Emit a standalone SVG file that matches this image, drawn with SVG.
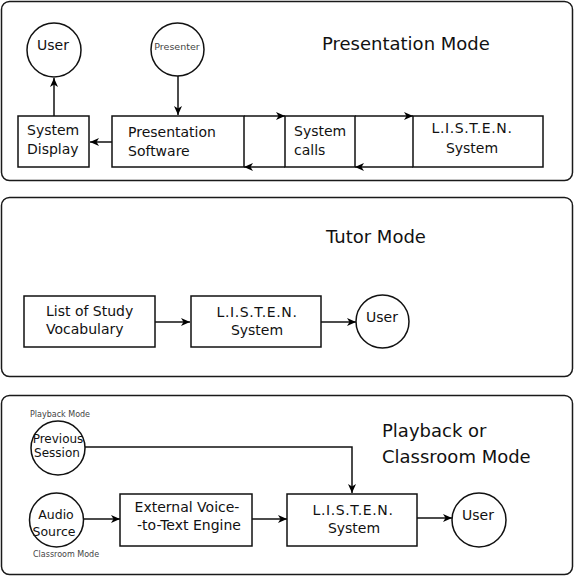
<svg xmlns="http://www.w3.org/2000/svg" width="575" height="576" viewBox="0 0 575 576">
<defs>
<marker id="ah" markerUnits="userSpaceOnUse" markerWidth="10" markerHeight="8" refX="9" refY="4" orient="auto">
<path d="M0,0 L9,4 L0,8 L2.5,4 Z" fill="#000"/>
</marker>
<style>
.panel{fill:#fff;stroke:#1a1a1a;stroke-width:1.5}
.box{fill:#fff;stroke:#111;stroke-width:1.5}
.t{font-family:"DejaVu Sans","Verdana",sans-serif;fill:#111;font-size:14px}
.title{font-family:"DejaVu Sans","Verdana",sans-serif;fill:#111;font-size:18px}
.small{font-family:"DejaVu Sans","Verdana",sans-serif;fill:#444;font-size:8px}
.m{text-anchor:middle}
.ls{letter-spacing:0.6px}
.c{fill:none;stroke:#111;stroke-width:1.5;marker-end:url(#ah)}
</style>
</defs>
<rect width="575" height="576" fill="#fff"/>

<g id="panel-presentation">
<rect class="panel" x="1.5" y="1.5" width="571" height="179" rx="8"/>
<text class="title" x="322" y="50">Presentation Mode</text>
</g>
<g id="panel-tutor">
<rect class="panel" x="1.5" y="197.5" width="571" height="179" rx="8"/>
<text class="title" x="326" y="243">Tutor Mode</text>
</g>
<g id="panel-playback">
<rect class="panel" x="1.5" y="395.5" width="571" height="179" rx="8"/>
<text class="title" x="382" y="437">Playback or</text>
<text class="title" x="382" y="463">Classroom Mode</text>
</g>

<g id="connectors">
<path class="c" d="M178 76 V115"/>
<path class="c" d="M54 116 V78"/>
<path class="c" d="M112 142 H90"/>
<path class="c" d="M244 116 H285"/>
<path class="c" d="M355 116 H413"/>
<path class="c" d="M285 167 H244"/>
<path class="c" d="M413 167 H355"/>
<path class="c" d="M155 322 H190"/>
<path class="c" d="M321 322 H356"/>
<path class="c" d="M85 447 H352 V493"/>
<path class="c" d="M84 519 H120"/>
<path class="c" d="M252 519 H287"/>
<path class="c" d="M417 518 H452"/>
</g>

<g id="user-top">
<circle class="box" cx="54" cy="50" r="27"/>
<text class="t m" x="53" y="50">User</text>
</g>
<g id="presenter">
<circle class="box" cx="177.5" cy="49.5" r="26.5"/>
<text class="t m" x="177" y="50" style="font-size:9.5px;fill:#444">Presenter</text>
</g>
<g id="system-display">
<rect class="box" x="18" y="116" width="71" height="51"/>
<text class="t" x="27" y="135">System</text>
<text class="t" x="27" y="154">Display</text>
</g>
<g id="presentation-software">
<rect class="box" x="112" y="116" width="132" height="51"/>
<text class="t" x="128" y="137">Presentation</text>
<text class="t" x="128" y="156">Software</text>
</g>
<g id="system-calls">
<rect class="box" x="285" y="116" width="70" height="51"/>
<text class="t" x="294" y="136">System</text>
<text class="t" x="294" y="155">calls</text>
</g>
<g id="listen-top">
<rect class="box" x="413" y="116" width="130" height="51"/>
<text class="t m ls" x="472" y="133">L.I.S.T.E.N.</text>
<text class="t m" x="472" y="153">System</text>
</g>

<g id="vocab">
<rect class="box" x="24" y="296" width="131" height="51"/>
<text class="t" x="46" y="316">List of Study</text>
<text class="t" x="46" y="334">Vocabulary</text>
</g>
<g id="listen-tutor">
<rect class="box" x="191" y="296" width="130" height="51"/>
<text class="t m ls" x="257" y="317">L.I.S.T.E.N.</text>
<text class="t m" x="257" y="335">System</text>
</g>
<g id="user-tutor">
<circle class="box" cx="382.5" cy="321.5" r="26.5"/>
<text class="t m" x="382" y="322">User</text>
</g>

<g id="previous-session">
<text class="small" x="30" y="417">Playback Mode</text>
<circle class="box" cx="58" cy="448" r="27"/>
<text class="t m" x="58" y="443" style="font-size:12px">Previous</text>
<text class="t m" x="57" y="457" style="font-size:12px">Session</text>
</g>
<g id="audio-source">
<circle class="box" cx="56.5" cy="520" r="27"/>
<text class="t m" x="56" y="519" style="font-size:12.5px">Audio</text>
<text class="t m" x="54" y="536" style="font-size:12.5px">Source</text>
<text class="small" x="33" y="557">Classroom Mode</text>
</g>
<g id="external-engine">
<rect class="box" x="120" y="494" width="132" height="52"/>
<text class="t m" x="187" y="512">External Voice-</text>
<text class="t m" x="189" y="530">-to-Text Engine</text>
</g>
<g id="listen-playback">
<rect class="box" x="287" y="494" width="130" height="52"/>
<text class="t m ls" x="353" y="515">L.I.S.T.E.N.</text>
<text class="t m" x="354" y="533">System</text>
</g>
<g id="user-playback">
<circle class="box" cx="479" cy="520" r="27"/>
<text class="t m" x="478" y="520">User</text>
</g>
</svg>
